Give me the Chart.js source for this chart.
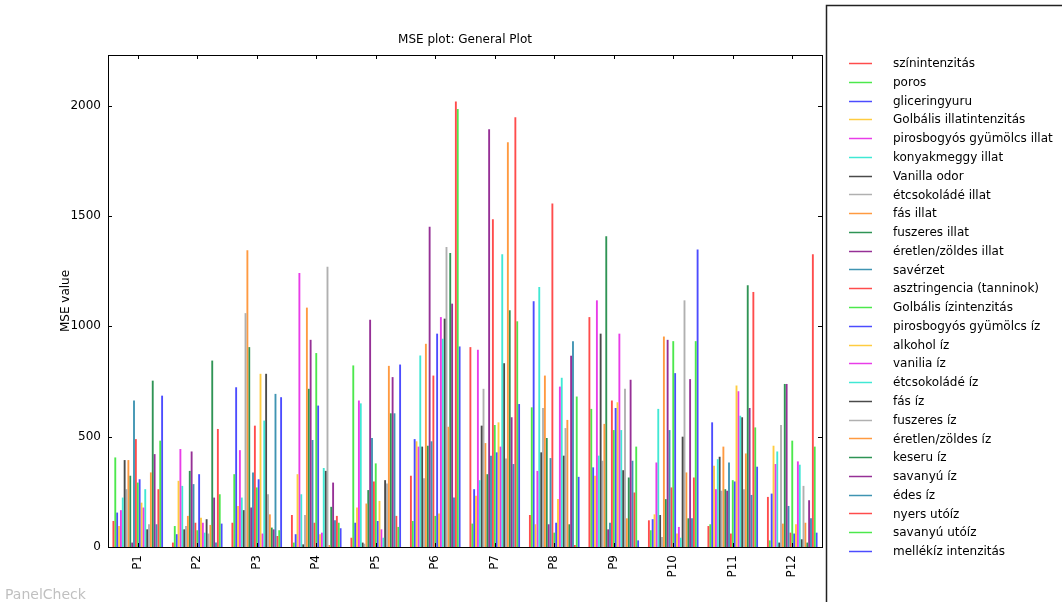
<!DOCTYPE html>
<html lang="hu">
<head>
  <meta charset="UTF-8" />
  <title>MSE plot: General Plot</title>
  <script src="https://cdn.jsdelivr.net/npm/chart.js"></script>
  <style>
    body { margin: 0; background: #fff; }
    #wrap { position: relative; width: 1062px; height: 602px; }
    #mark {
      position: absolute; left: 5px; top: 586px;
      font-family: "DejaVu Sans", sans-serif; font-size: 14px; color: #c0c0c0;
    }
  </style>
</head>
<body>
  <div id="wrap">
    <canvas id="chart" width="1062" height="602"></canvas>
    <div id="mark">PanelCheck</div>
  </div>

  <script>
    const panelists = ['P1', 'P2', 'P3', 'P4', 'P5', 'P6', 'P7', 'P8', 'P9', 'P10', 'P11', 'P12'];

    const attributes = [
      'színintenzitás', 'poros', 'gliceringyuru', 'Golbális illatintenzitás',
      'pirosbogyós gyümölcs illat', 'konyakmeggy illat', 'Vanilla odor', 'étcsokoládé illat',
      'fás illat', 'fuszeres illat', 'éretlen/zöldes illat', 'savérzet',
      'asztringencia (tanninok)', 'Golbális ízintenzitás', 'pirosbogyós gyümölcs íz', 'alkohol íz',
      'vanilia íz', 'étcsokoládé íz', 'fás íz', 'fuszeres íz', 'éretlen/zöldes íz',
      'keseru íz', 'savanyú íz', 'édes íz', 'nyers utóíz', 'savanyú utóíz', 'mellékíz intenzitás'
    ];

    // MSE per panelist, in the attribute order above
    const p1  = [118, 406, 156, 95, 167, 224, 394, 262, 394, 323, 20, 664, 489, 292, 307, 201, 179, 262, 80, 103, 338, 754, 421, 103, 262, 482, 686];
    const p2  = [20, 95, 58, 300, 444, 277, 80, 95, 141, 345, 433, 285, 110, 76, 330, 133, 110, 65, 126, 61, 100, 845, 224, 20, 535, 239, 106];
    const p3  = [110, 330, 724, 186, 439, 224, 167, 1060, 1345, 906, 179, 338, 550, 270, 307, 785, 61, 573, 785, 239, 148, 88, 80, 694, 50, 76, 679];
    const p4  = [145, 20, 58, 330, 1242, 239, 12, 145, 1085, 717, 939, 485, 110, 879, 641, 58, 65, 358, 345, 1270, 9, 182, 292, 121, 141, 110, 85];
    const p5  = [42, 823, 110, 179, 664, 651, 20, 15, 197, 258, 1030, 494, 297, 379, 118, 209, 80, 42, 303, 288, 821, 606, 770, 606, 141, 91, 827];
    const p6  = [323, 118, 489, 479, 455, 868, 455, 312, 921, 459, 1451, 479, 777, 141, 967, 152, 1042, 944, 1035, 1360, 545, 1333, 1103, 224, 2019, 1985, 909];
    const p7  = [906, 106, 262, 232, 894, 303, 550, 717, 471, 330, 1894, 414, 1485, 553, 429, 565, 455, 1327, 833, 401, 1835, 1073, 588, 376, 1948, 1023, 648];
    const p8  = [145, 633, 1114, 103, 345, 1179, 429, 630, 777, 494, 103, 403, 1557, 65, 110, 217, 727, 767, 414, 539, 576, 103, 867, 933, 9, 682, 318];
    const p9  = [1042, 626, 361, 323, 1118, 414, 967, 391, 558, 1409, 80, 110, 664, 530, 630, 656, 967, 530, 348, 717, 130, 315, 758, 391, 247, 455, 30];
    const p10 = [121, 76, 126, 148, 383, 626, 145, 45, 954, 217, 939, 530, 270, 933, 788, 61, 91, 42, 500, 1118, 338, 130, 761, 130, 315, 933, 1348];
    const p11 = [95, 103, 565, 368, 262, 398, 409, 255, 455, 262, 255, 383, 61, 303, 297, 732, 706, 595, 588, 262, 424, 1186, 630, 236, 1156, 542, 364];
    const p12 = [227, 30, 242, 459, 376, 433, 20, 553, 106, 739, 739, 186, 65, 482, 61, 103, 388, 373, 35, 277, 110, 20, 212, 130, 1327, 455, 65];

    const yTicks = [0, 500, 1000, 1500, 2000];
    const yMax = 2230;

    const palette = ['#ff4c4c', '#4ce84c', '#4c4cff', '#ffcc40', '#e83ce8', '#40e8d4',
                     '#4a4a4a', '#b0b0b0', '#ff9a40', '#2f9455', '#963096', '#3f94b2'];

    const rows = [p1, p2, p3, p4, p5, p6, p7, p8, p9, p10, p11, p12];

    const datasets = attributes.map((name, j) => ({
      label: name,
      data: rows.map(r => r[j]),
      backgroundColor: palette[j % palette.length],
      borderWidth: 0,
      categoryPercentage: 0.85,
      barPercentage: 1.0
    }));

    const FONT = '"DejaVu Sans", sans-serif';

    // frame, inward ticks, title, axis label and legend box (matplotlib look)
    const decor = {
      id: 'decor',
      afterDraw(chart) {
        const { ctx, chartArea: a, scales: { x, y } } = chart;
        ctx.save();
        ctx.strokeStyle = '#000';
        ctx.lineWidth = 1;
        ctx.strokeRect(Math.round(a.left) + 0.5, Math.round(a.top) + 0.5,
                       Math.round(a.width), Math.round(a.height));

        ctx.beginPath();
        yTicks.forEach(v => {
          const py = Math.round(y.getPixelForValue(v)) + 0.5;
          ctx.moveTo(a.left, py); ctx.lineTo(a.left + 4, py);
          ctx.moveTo(a.right, py); ctx.lineTo(a.right - 4, py);
        });
        panelists.forEach((p, i) => {
          const px = Math.round(x.getPixelForValue(i)) + 0.5;
          ctx.moveTo(px, a.bottom); ctx.lineTo(px, a.bottom - 4);
          ctx.moveTo(px, a.top); ctx.lineTo(px, a.top + 4);
        });
        ctx.stroke();

        ctx.fillStyle = '#000';
        ctx.font = '12px ' + FONT;
        ctx.textAlign = 'center';
        ctx.textBaseline = 'middle';
        ctx.fillText('MSE plot: General Plot', (a.left + a.right) / 2, 40);

        ctx.save();
        ctx.translate(66, (a.top + a.bottom) / 2);
        ctx.rotate(-Math.PI / 2);
        ctx.fillText('MSE value', 0, 0);
        ctx.restore();

        // legend
        ctx.lineWidth = 1.5;
        ctx.strokeStyle = '#222';
        ctx.beginPath();
        ctx.moveTo(826.5, 610); ctx.lineTo(826.5, 5.5); ctx.lineTo(1070, 5.5);
        ctx.stroke();
        ctx.textAlign = 'left';
        ctx.font = '12px ' + FONT;
        chart.data.datasets.forEach((ds, i) => {
          const ly = 63 + i * 18.77;
          ctx.strokeStyle = ds.backgroundColor;
          ctx.lineWidth = 1.5;
          ctx.beginPath();
          ctx.moveTo(849, Math.round(ly) + 0.5);
          ctx.lineTo(872, Math.round(ly) + 0.5);
          ctx.stroke();
          ctx.fillStyle = '#000';
          ctx.fillText(ds.label, 893, ly + 1);
        });
        ctx.restore();
      }
    };

    new Chart(document.getElementById('chart').getContext('2d'), {
      type: 'bar',
      data: { labels: panelists, datasets: datasets },
      options: {
        responsive: false,
        animation: false,
        layout: { padding: { top: 55, right: 240, left: 0, bottom: 0 } },
        plugins: {
          legend: { display: false },
          title: { display: false },
          tooltip: { enabled: false }
        },
        scales: {
          x: {
            grid: { display: false, drawTicks: false },
            border: { display: false },
            ticks: {
              color: '#000', font: { family: FONT, size: 12 },
              minRotation: 90, maxRotation: 90, padding: 8, autoSkip: false
            },
            afterFit(scale) { scale.height = 55; }
          },
          y: {
            min: 0,
            max: yMax,
            grid: { display: false, drawTicks: false },
            border: { display: false },
            ticks: {
              color: '#000', font: { family: FONT, size: 12 }, padding: 7,
              callback: v => String(v)
            },
            afterBuildTicks(scale) { scale.ticks = yTicks.map(v => ({ value: v })); },
            afterFit(scale) { scale.width = 108; }
          }
        }
      },
      plugins: [decor]
    });
  </script>
</body>
</html>
